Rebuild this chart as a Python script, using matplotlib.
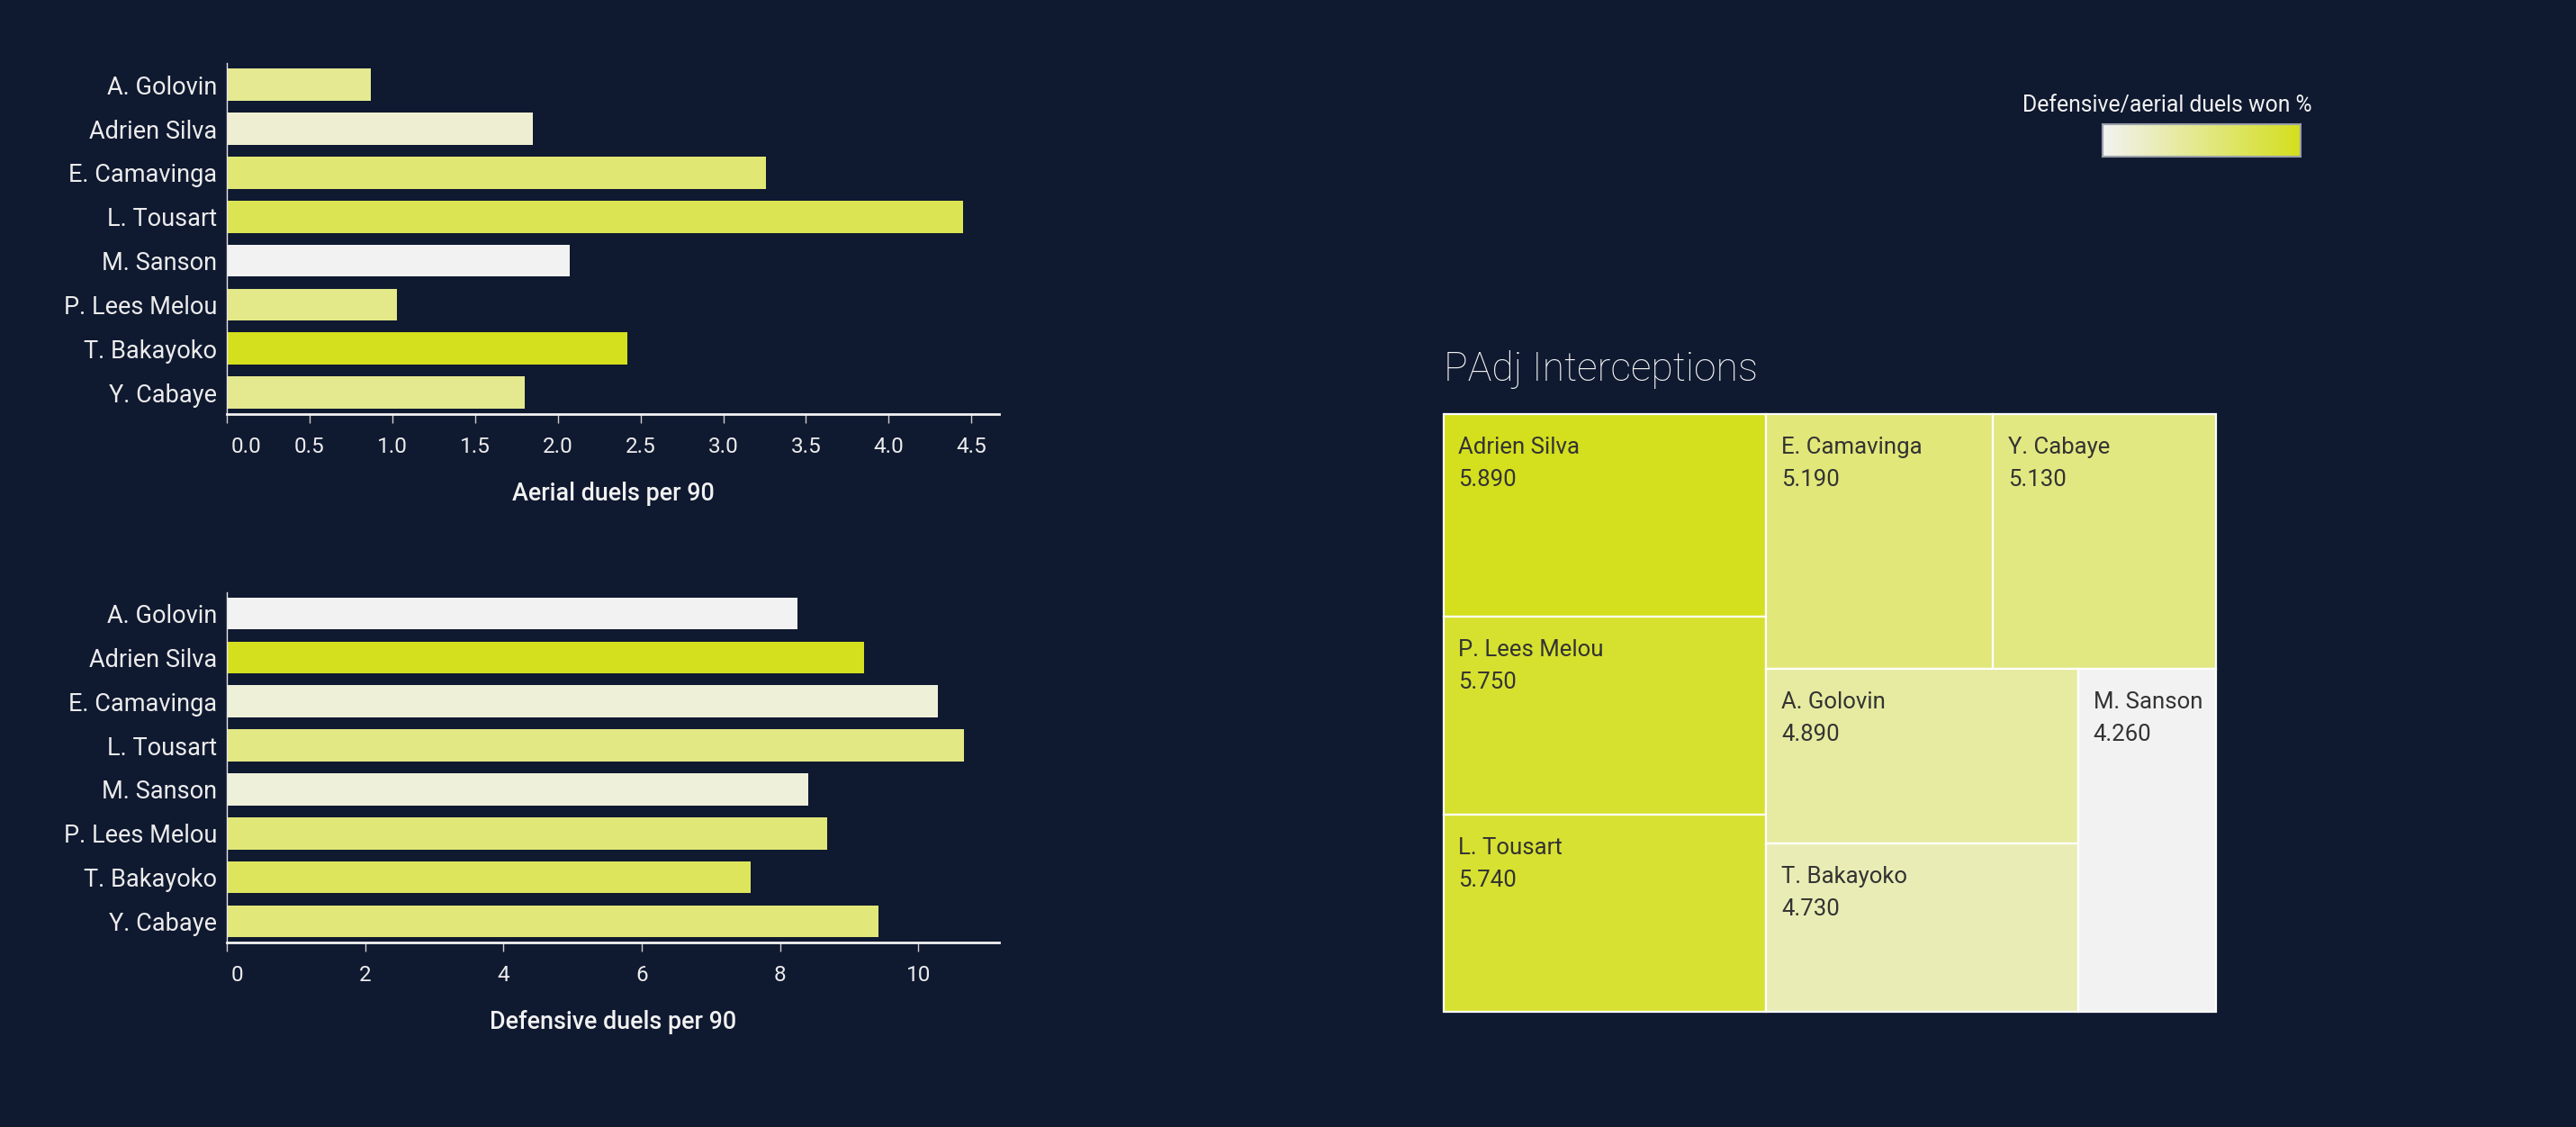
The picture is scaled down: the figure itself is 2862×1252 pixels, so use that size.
import matplotlib
matplotlib.use("Agg")
import matplotlib.pyplot as plt
from matplotlib.colors import LinearSegmentedColormap, Normalize
from matplotlib.patches import Rectangle
from matplotlib.transforms import ScaledTranslation
import numpy as np

plt.rcParams['font.family'] = ['Roboto', 'DejaVu Sans']

# ---------------- data ----------------
players = ["A. Golovin", "Adrien Silva", "E. Camavinga", "L. Tousart",
           "M. Sanson", "P. Lees Melou", "T. Bakayoko", "Y. Cabaye"]
aerial_per90 = [0.87, 1.85, 3.26, 4.45, 2.07, 1.03, 2.42, 1.80]
aerial_won_pct = [43.5, 34.5, 48.0, 52.5, 30.0, 45.0, 60.0, 44.0]
defensive_per90 = [8.25, 9.22, 10.29, 10.66, 8.41, 8.68, 7.58, 9.43]
defensive_won_pct = [50.0, 70.0, 52.6, 60.4, 52.4, 61.6, 64.0, 61.4]

tm_players = ["Adrien Silva", "P. Lees Melou", "L. Tousart", "E. Camavinga",
              "Y. Cabaye", "A. Golovin", "T. Bakayoko", "M. Sanson"]
tm_values = [5.89, 5.75, 5.74, 5.19, 5.13, 4.89, 4.73, 4.26]

aerial_ticks = [0.0, 0.5, 1.0, 1.5, 2.0, 2.5, 3.0, 3.5, 4.0, 4.5]
defensive_ticks = [0, 2, 4, 6, 8, 10]

# ---------------- style ----------------
BG = "#0f1930"
FG = "#ececec"
cmap = LinearSegmentedColormap.from_list("duels", ["#f2f2f2", "#d4df1e"])

W, H = 2862, 1252
DPI = 100
fig = plt.figure(figsize=(W / DPI, H / DPI), dpi=DPI, facecolor=BG)


def fx(px):
    return px / W


def fy(py):
    return 1 - py / H


def bar_axes(top_px, bottom_px, values, won, xmax, ticks, ticklabels, xlabel):
    left_px, right_px = 252, 1110
    ax = fig.add_axes([fx(left_px), fy(bottom_px), (right_px - left_px) / W,
                       (bottom_px - top_px) / H])
    ax.set_facecolor(BG)
    norm = Normalize(min(won), max(won))
    y = np.arange(len(players))
    ax.barh(y, values, height=0.73, color=[cmap(norm(v)) for v in won])
    ax.set_ylim(len(players) - 0.51, -0.49)
    ax.set_xlim(0, xmax)
    ax.set_yticks(y)
    ax.set_yticklabels(players, fontsize=19.5, color=FG)
    ax.tick_params(axis='y', length=0, pad=8)
    ax.set_xticks(ticks)
    ax.set_xticklabels(ticklabels, fontsize=17.5, color=FG)
    ax.tick_params(axis='x', length=7, width=1, color="#d0d0d0", pad=11,
                   direction='out')
    first = ax.get_xticklabels()[0]
    first.set_horizontalalignment('left')
    first.set_transform(first.get_transform() +
                        ScaledTranslation(5 / DPI, 0, fig.dpi_scale_trans))
    for s in ['top', 'right']:
        ax.spines[s].set_visible(False)
    ax.spines['left'].set_color("#e6e6e6")
    ax.spines['left'].set_linewidth(1.0)
    ax.spines['bottom'].set_color("#f2f2f2")
    ax.spines['bottom'].set_linewidth(2.0)
    ax.set_xlabel(xlabel, fontsize=19.4, color="#f2f2f2", fontweight='medium')
    ax.xaxis.set_label_coords(0.5, -0.226)
    ax.xaxis.label.set_verticalalignment('center')
    return ax


bar_axes(70.3, 460, aerial_per90, aerial_won_pct, 4.667, aerial_ticks,
         [f"{t:.1f}" for t in aerial_ticks], "Aerial duels per 90")
bar_axes(657.6, 1047.4, defensive_per90, defensive_won_pct, 11.17,
         defensive_ticks, [str(t) for t in defensive_ticks],
         "Defensive duels per 90")

# ---------------- legend ----------------
fig.text(fx(2408), fy(117), "Defensive/aerial duels won %", fontsize=17.8,
         color="#f2f2f2", ha='center', va='center')
lax = fig.add_axes([fx(2336), fy(174), (2556 - 2336) / W, (174 - 138) / H])
grad = np.linspace(0, 1, 256).reshape(1, -1)
lax.imshow(grad, cmap=cmap, aspect='auto', extent=[0, 1, 0, 1])
lax.set_xticks([])
lax.set_yticks([])
for s in lax.spines.values():
    s.set_color("#9aa0a8")
    s.set_linewidth(1.5)

# ---------------- treemap ----------------
fig.text(fx(1604), fy(410), "PAdj Interceptions", fontsize=32,
         color="#f4f4f4", ha='left', va='center', fontweight='light')

TW, TH = 858.5, 663.7
tax = fig.add_axes([fx(1603.5), fy(1123.7), TW / W, TH / H])
tax.set_xlim(0, TW)
tax.set_ylim(TH, 0)
tax.axis('off')

order = np.argsort(tm_values)[::-1]
vals = [tm_values[i] for i in order]
names = [tm_players[i] for i in order]
row_counts = [3, 2, 2, 1]


def layout(values, counts, x, y, w, h):
    rects = []
    i = 0
    for c in counts:
        row = values[i:i + c]
        s = sum(row)
        rest = sum(values[i:])
        if w >= h:
            cw = w * s / rest
            yy = y
            for v in row:
                ch = h * v / s
                rects.append((x, yy, cw, ch))
                yy += ch
            x += cw
            w -= cw
        else:
            rh = h * s / rest
            xx = x
            for v in row:
                cw = w * v / s
                rects.append((xx, y, cw, rh))
                xx += cw
            y += rh
            h -= rh
        i += c
    return rects


tnorm = Normalize(min(tm_values), max(tm_values))
for (x, y, w, h), nm, v in zip(layout(vals, row_counts, 0, 0, TW, TH), names, vals):
    tax.add_patch(Rectangle((x, y), w, h, facecolor=cmap(tnorm(v)),
                            edgecolor="white", linewidth=1.6, clip_on=False))
    tax.text(x + 17, y + 37, nm, fontsize=18.5, color="#333333",
             ha='left', va='center')
    tax.text(x + 17, y + 73, f"{v:.3f}", fontsize=18.5, color="#333333",
             ha='left', va='center')

fig.savefig("out.png", dpi=DPI, facecolor=BG)
